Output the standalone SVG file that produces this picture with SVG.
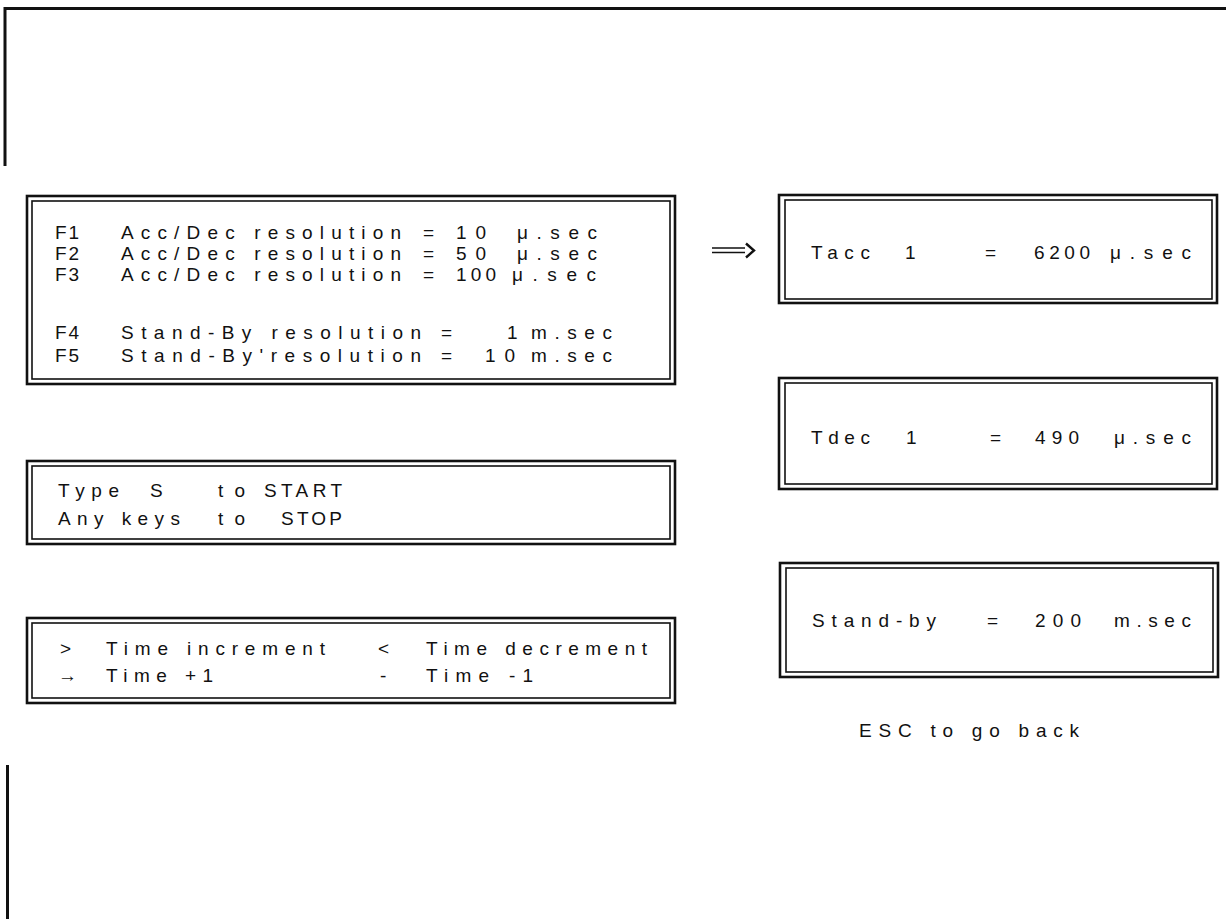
<svg xmlns="http://www.w3.org/2000/svg" width="1226" height="919" viewBox="0 0 1226 919">
<style>
.o{fill:none;stroke:#111;stroke-width:2.6}
.i{fill:none;stroke:#111;stroke-width:1.6}
.t{font-family:"Liberation Sans","Arial",sans-serif;font-size:19px;fill:#111}
.k{letter-spacing:2px}
.frame{stroke:#111;stroke-width:3;fill:none}
</style>
<g id="frame">
<path class="frame" d="M5 166 V8.5 H1226"/>
<path class="frame" d="M7.5 765 V919"/>
</g>
<g id="resolution-menu">
<rect class="o" x="27" y="196" width="648" height="188"/>
<rect class="i" x="32" y="201" width="638" height="178"/>
<g class="t">
<text class="k" x="55" y="239">F1</text><text x="121" y="239" textLength="280" lengthAdjust="spacing">Acc/Dec resolution</text><text x="423" y="239">=</text><text x="456" y="239" textLength="30" lengthAdjust="spacing">10</text><text x="517" y="239" textLength="80" lengthAdjust="spacing">μ.sec</text>
<text class="k" x="55" y="260">F2</text><text x="121" y="260" textLength="280" lengthAdjust="spacing">Acc/Dec resolution</text><text x="423" y="260">=</text><text x="456" y="260" textLength="30" lengthAdjust="spacing">50</text><text x="517" y="260" textLength="80" lengthAdjust="spacing">μ.sec</text>
<text class="k" x="55" y="281">F3</text><text x="121" y="281" textLength="280" lengthAdjust="spacing">Acc/Dec resolution</text><text x="423" y="281">=</text><text x="456" y="281" textLength="40" lengthAdjust="spacing">100</text><text x="512" y="281" textLength="84" lengthAdjust="spacing">μ.sec</text>
<text class="k" x="55" y="339">F4</text><text x="121" y="339" textLength="300" lengthAdjust="spacing">Stand-By resolution</text><text x="441" y="339">=</text><text x="507" y="339">1</text><text x="531" y="339" textLength="81" lengthAdjust="spacing">m.sec</text>
<text class="k" x="55" y="362">F5</text><text x="121" y="362" textLength="300" lengthAdjust="spacing">Stand-By'resolution</text><text x="441" y="362">=</text><text x="485" y="362" textLength="30" lengthAdjust="spacing">10</text><text x="531" y="362" textLength="81" lengthAdjust="spacing">m.sec</text>
</g>
</g>
<g id="start-stop">
<rect class="o" x="27" y="461" width="648" height="83"/>
<rect class="i" x="32" y="466" width="638" height="73"/>
<g class="t">
<text x="58" y="497" textLength="61" lengthAdjust="spacing">Type</text><text x="150" y="497">S</text><text x="218" y="497" textLength="27" lengthAdjust="spacing">to</text><text x="264" y="497" textLength="78" lengthAdjust="spacing">START</text>
<text x="58" y="525" textLength="122" lengthAdjust="spacing">Any keys</text><text x="218" y="525" textLength="27" lengthAdjust="spacing">to</text><text x="281" y="525" textLength="61" lengthAdjust="spacing">STOP</text>
</g>
</g>
<g id="time-keys">
<rect class="o" x="27" y="618" width="648" height="85"/>
<rect class="i" x="32" y="623" width="638" height="75"/>
<g class="t">
<text x="60" y="655">&gt;</text><text x="106" y="655" textLength="219" lengthAdjust="spacing">Time increment</text><text x="378" y="655">&lt;</text><text x="426" y="655" textLength="221" lengthAdjust="spacing">Time decrement</text>
<text x="58" y="682">→</text><text x="106" y="682" textLength="107" lengthAdjust="spacing">Time +1</text><text x="380" y="682">-</text><text x="426" y="682" textLength="107" lengthAdjust="spacing">Time -1</text>
</g>
</g>
<g id="connectors">
<path d="M712 248 H745 M712 252.5 H745" stroke="#111" stroke-width="1.6" fill="none"/>
<path d="M746 243.5 L754 250.5 L746 257.5" stroke="#111" stroke-width="2.4" fill="none"/>
</g>
<g id="tacc">
<rect class="o" x="779" y="195" width="438" height="108"/>
<rect class="i" x="785" y="200" width="427" height="99"/>
<g class="t">
<text x="811" y="259" textLength="59" lengthAdjust="spacing">Tacc</text><text x="905" y="259">1</text><text x="985" y="259">=</text><text x="1034" y="259" textLength="56" lengthAdjust="spacing">6200</text><text x="1110" y="259" textLength="81" lengthAdjust="spacing">μ.sec</text>
</g>
</g>
<g id="tdec">
<rect class="o" x="779" y="378" width="438" height="111"/>
<rect class="i" x="785" y="383" width="427" height="101"/>
<g class="t">
<text x="811" y="444" textLength="59" lengthAdjust="spacing">Tdec</text><text x="906" y="444">1</text><text x="990" y="444">=</text><text x="1035" y="444" textLength="44" lengthAdjust="spacing">490</text><text x="1114" y="444" textLength="77" lengthAdjust="spacing">μ.sec</text>
</g>
</g>
<g id="standby">
<rect class="o" x="780" y="563" width="438" height="114"/>
<rect class="i" x="786" y="568" width="427" height="104"/>
<g class="t">
<text x="812" y="627" textLength="124" lengthAdjust="spacing">Stand-by</text><text x="987" y="627">=</text><text x="1035" y="627" textLength="46" lengthAdjust="spacing">200</text><text x="1114" y="627" textLength="77" lengthAdjust="spacing">m.sec</text>
</g>
</g>
<g id="esc-note" class="t">
<text x="859" y="737" textLength="220" lengthAdjust="spacing">ESC to go back</text>
</g>
</svg>
